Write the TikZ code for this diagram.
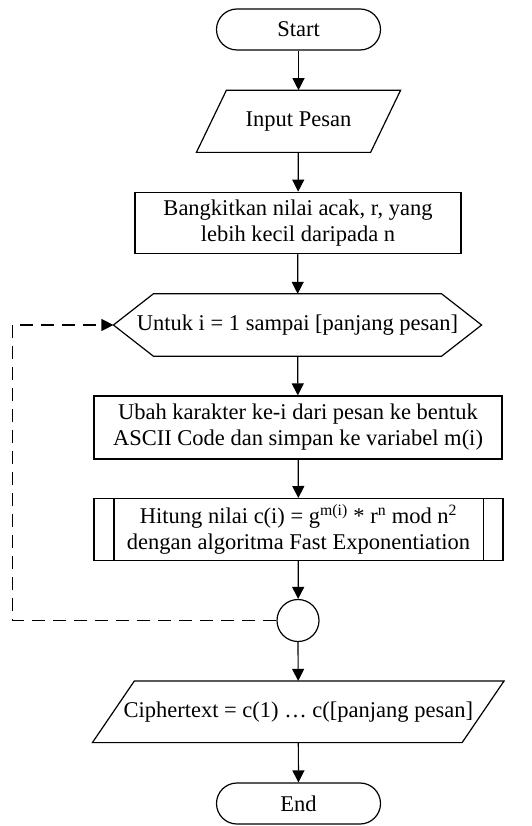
\documentclass[tikz,border=0pt]{standalone}
\usepackage{fontspec}
\setmainfont{Liberation Serif}
\usetikzlibrary{arrows.meta}
\begin{document}
\begin{tikzpicture}[x=1pt,y=-1pt,
  font=\fontsize{22.5}{25.9}\selectfont,
  line width=1.2pt,
  terminal/.style={draw, rounded corners=20.5pt, minimum width=164pt,
    minimum height=41pt, inner sep=0pt},
  procbox/.style={draw, inner sep=0pt, align=center},
  outline/.style={inner sep=0pt, align=center},
  connector/.style={draw, circle, minimum size=42pt, inner sep=0pt},
  flow/.style={-{Triangle[length=12pt,width=12pt]}},
  loopback/.style={flow, dash pattern=on 13pt off 8pt}
]
\useasboundingbox (0,0) rectangle (531,826);

% terminals, process boxes and connector
\node[terminal] (start) at (298.5,29.5) {Start};
\node[outline, minimum width=203pt, minimum height=61pt] (input) at (298.5,121.3) {Input Pesan};
\node[procbox, minimum width=326pt, minimum height=61pt] (bangkit) at (298,222.7)
  {Bangkitkan nilai acak, r, yang\\lebih kecil daripada n};
\node[outline, minimum width=367pt, minimum height=61.2pt] (loop) at (297.5,325)
  {Untuk i = 1 sampai [panjang pesan]};
\node[procbox, minimum width=408pt, minimum height=63pt] (ubah) at (298,427.5)
  {Ubah karakter ke-i dari pesan ke bentuk\\ASCII Code dan simpan ke variabel m(i)};
\node[procbox, minimum width=409pt, minimum height=62pt] (hitung) at (298.5,529.6)
  {Hitung nilai c(i) = g\textsuperscript{m(i)} * r\textsuperscript{n} mod n\textsuperscript{2}\\dengan algoritma Fast Exponentiation};
\node[connector] (join) at (298,620.5) {};
\node[outline, minimum width=410.5pt, minimum height=60.5pt] (cipher) at (298.25,711.75)
  {Ciphertext = c(1) … c([panjang pesan]};
\node[terminal] (end) at (298.5,803.5) {End};

% input / output parallelograms
\draw ([xshift=30pt]input.north west) -- (input.north east)
  -- ([xshift=-30pt]input.south east) -- (input.south west) -- cycle;
\draw ([xshift=42pt]cipher.north west) -- (cipher.north east)
  -- ([xshift=-42pt]cipher.south east) -- (cipher.south west) -- cycle;

% loop hexagon
\draw (loop.west) -- ([xshift=40pt]loop.north west) -- ([xshift=-40pt]loop.north east)
  -- (loop.east) -- ([xshift=-40pt]loop.south east) -- ([xshift=40pt]loop.south west) -- cycle;

% predefined-process side bars
\draw ([xshift=20.5pt]hitung.north west) -- ([xshift=20.5pt]hitung.south west);
\draw ([xshift=-20.5pt]hitung.north east) -- ([xshift=-20.5pt]hitung.south east);

% main flow
\draw[flow] (start) -- (input);
\draw[flow] (input) -- (bangkit);
\draw[flow] (bangkit) -- (loop);
\draw[flow] (loop) -- (ubah);
\draw[flow] (ubah) -- (hitung);
\draw[flow] (hitung) -- (join);
\draw[flow] (join) -- (cipher);
\draw[flow] (cipher) -- (end);

% loop back
\coordinate (back) at (12.5,325);
\draw[loopback] (join.west) -| (back) -- (loop.west);
\end{tikzpicture}
\end{document}
